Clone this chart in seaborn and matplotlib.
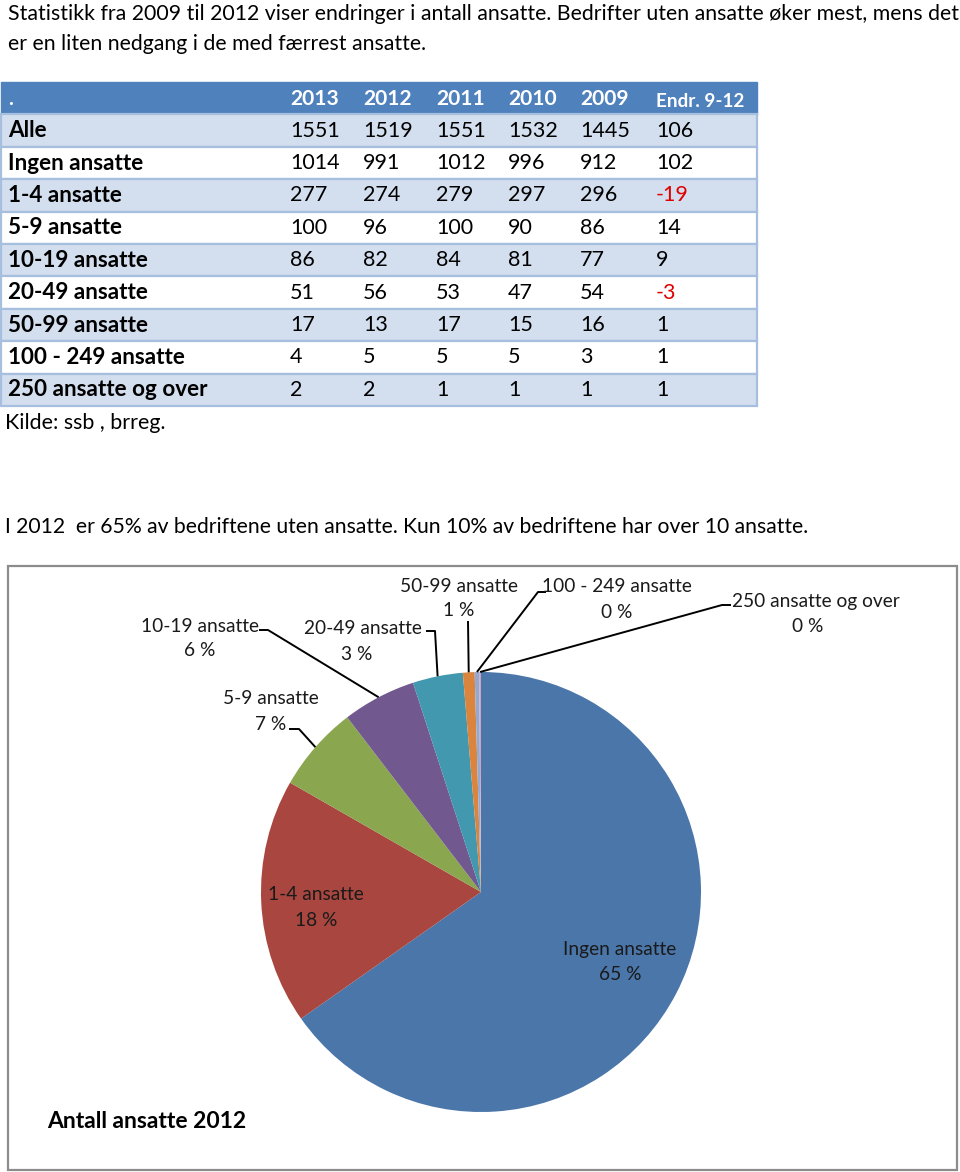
import math
import matplotlib
matplotlib.use("Agg")
import matplotlib.pyplot as plt
from matplotlib.patches import Rectangle
import seaborn as sns

sns.set_theme(style="white")
plt.rcParams['font.family'] = ['Lato', 'DejaVu Sans']

# ---------------- data ----------------
intro_lines = [
    "Statistikk fra 2009 til 2012 viser endringer i antall ansatte. Bedrifter uten ansatte øker mest, mens det",
    "er en liten nedgang i de med færrest ansatte.",
]
summary_text = "I 2012  er 65% av bedriftene uten ansatte. Kun 10% av bedriftene har over 10 ansatte."
source_text = "Kilde: ssb , brreg."
chart_title = "Antall ansatte 2012"

categories = ["Alle", "Ingen ansatte", "1-4 ansatte", "5-9 ansatte", "10-19 ansatte",
              "20-49 ansatte", "50-99 ansatte", "100 - 249 ansatte", "250 ansatte og over"]
col_headers = [".", "2013", "2012", "2011", "2010", "2009", "Endr. 9-12"]
v2013 = [1551, 1014, 277, 100, 86, 51, 17, 4, 2]
v2012 = [1519, 991, 274, 96, 82, 56, 13, 5, 2]
v2011 = [1551, 1012, 279, 100, 84, 53, 17, 5, 1]
v2010 = [1532, 996, 297, 90, 81, 47, 15, 5, 1]
v2009 = [1445, 912, 296, 86, 77, 54, 16, 3, 1]
endr = [106, 102, -19, 14, 9, -3, 1, 1, 1]

pie_categories = categories[1:]
pie_values = v2012[1:]
pie_pct_labels = ["65 %", "18 %", "7 %", "6 %", "3 %", "1 %", "0 %", "0 %"]
pie_colors = sns.color_palette(["#4A76AA", "#A8463F", "#8AA64E", "#71588F",
                                "#4198AF", "#DB843D", "#93A9CF", "#C9A5C4"])

# ---------------- figure ----------------
W, H = 960, 1172
fig = plt.figure(figsize=(W / 100, H / 100), dpi=100)
fig.patch.set_facecolor("white")
ax = fig.add_axes([0, 0, 1, 1], zorder=2)
ax.set_xlim(0, W)
ax.set_ylim(H, 0)
ax.axis("off")
ax.patch.set_alpha(0)
renderer = fig.canvas.get_renderer()


def put(x, y, s, size, width=None, ha="left", weight="normal", color="black"):
    t = ax.text(x, y, s, fontsize=size, ha=ha, va="center", fontweight=weight, color=color)
    if width:
        w = t.get_window_extent(renderer).width
        t.set_fontsize(size * width / w)
    return t


# intro text
t = put(8, 14, intro_lines[0], 13, width=947)
body_size = t.get_fontsize()
put(8, 44, intro_lines[1], body_size)

# ---------------- table ----------------
tab_left, tab_right = 1, 757
top = 82
row_h = 32.4
header_blue = "#4F81BD"
light = "#D3DFEE"
border = "#A7BFDE"

ax.add_patch(Rectangle((tab_left, top), tab_right - tab_left, row_h + 1,
                       facecolor=header_blue, edgecolor=header_blue, lw=1))
for i in range(len(categories)):
    y0 = top + (i + 1) * row_h
    fc = light if i % 2 == 0 else "white"
    ax.add_patch(Rectangle((tab_left, y0), tab_right - tab_left, row_h,
                           facecolor=fc, edgecolor=border, lw=1.6))

col_x = [8, 290, 363, 436, 508, 580, 656]

# header
hy = top + row_h / 2 + 1
put(col_x[0], hy, col_headers[0], 15, weight="bold", color="white")
probe = put(col_x[1], hy, col_headers[1], 15, width=49, weight="bold", color="white")
hsize = probe.get_fontsize()
for x, s in zip(col_x[2:6], col_headers[2:6]):
    put(x, hy, s, hsize, weight="bold", color="white")
put(col_x[6], hy + 2, col_headers[6], 13, width=88, weight="bold", color="white")

# body
probe = put(col_x[1], top + row_h * 1.5, str(v2013[0]), 15, width=50)
num_size = probe.get_fontsize()
probe.remove()
probe = put(col_x[0], top + row_h * 2.5, categories[1], 15, width=136, weight="bold")
lab_size = probe.get_fontsize()
probe.remove()

columns = [v2013, v2012, v2011, v2010, v2009]
for i, cat in enumerate(categories):
    yc = top + row_h * (i + 1.5)
    put(col_x[0], yc, cat, lab_size, weight="bold")
    for x, col in zip(col_x[1:6], columns):
        put(x, yc, str(col[i]), num_size)
    put(col_x[6], yc, str(endr[i]), num_size, color="#E00000" if endr[i] < 0 else "black")

put(5, 423, source_text, body_size, width=160)

# summary text
put(5, 527, summary_text, body_size, width=801)

# ---------------- pie chart ----------------
ax.add_patch(Rectangle((8, 566), 949, 604, facecolor="none", edgecolor="#8C8C8C", lw=1.6))

cx, cy, R = 481, 892, 220
pax = fig.add_axes([(cx - R) / W, (H - cy - R) / H, 2 * R / W, 2 * R / H], zorder=1)
wedges, _ = pax.pie(pie_values, colors=pie_colors, startangle=90, counterclock=False,
                    radius=1, wedgeprops=dict(linewidth=0))
pax.set_xlim(-1, 1)
pax.set_ylim(-1, 1)
pax.set_aspect("equal")
pax.axis("off")

# label layout (pixel positions): name centre, pct centre, leader start points
label_layout = [
    ((620, 949), (620, 975), None),
    ((316, 895), (316, 921), None),
    ((271, 699), (271, 724), [(289, 729), (299, 729)]),
    ((200, 626), (200, 651), [(259, 630), (268, 630)]),
    ((363, 629), (357, 655), [(426, 631), (435, 631)]),
    ((459, 586), (459, 611), [(468, 621)]),
    ((617, 587), (617, 612), [(546, 592), (538, 592)]),
    ((816, 601), (808, 627), [(731, 605), (722, 605)]),
]

probe = put(0, -100, pie_categories[5], 13, width=118)
pie_size = probe.get_fontsize()
probe.remove()

for wedge, name, pct, (npos, ppos, lead) in zip(wedges, pie_categories, pie_pct_labels, label_layout):
    put(npos[0], npos[1], name, pie_size, ha="center", color="#1a1a1a")
    put(ppos[0], ppos[1], pct, pie_size, ha="center", color="#1a1a1a")
    if lead:
        mid = math.radians((wedge.theta1 + wedge.theta2) / 2)
        anchor = (cx + R * math.cos(mid), cy - R * math.sin(mid))
        pts = lead + [anchor]
        ax.plot([p[0] for p in pts], [p[1] for p in pts], color="black", lw=1.4,
                solid_capstyle="butt")

put(47, 1122, chart_title, 16, width=200, weight="bold")

fig.savefig("out.png", dpi=100, facecolor="white")
